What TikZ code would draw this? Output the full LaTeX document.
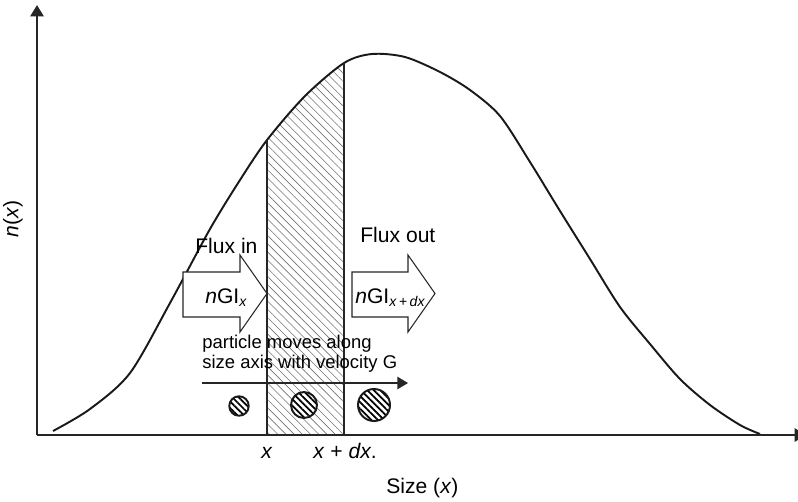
\documentclass[tikz,border=0pt]{standalone}
\usepackage{fontspec}
\setmainfont{Liberation Sans}
\usepackage{tikz}
\usetikzlibrary{arrows.meta, patterns.meta, positioning}
\tikzset{
  axis/.style={line width=1.4pt, color=black!85, -{Triangle[width=7.5pt, length=6.5pt]}},
  curve/.style={line width=1.1pt, color=black!90},
  band/.style={line width=0.9pt, color=black!85},
  hatch/.style={pattern={Lines[angle=-45, distance=3.3pt, line width=0.35pt]}, pattern color=black!55},
  flux/.style={draw=black!85, fill=white, line width=0.6pt},
  velarrow/.style={line width=0.7pt, color=black!85, -{Triangle[width=7pt, length=6pt]}},
  grain/.style={circle, draw=black!90, line width=1.1pt, inner sep=0pt,
    preaction={fill=white}, pattern={Lines[angle=-45, distance=2.6pt, line width=1pt]}},
  lbl/.style={font=\fontsize{12}{14}\selectfont, inner sep=0pt},
  small/.style={font=\fontsize{10.5}{12}\selectfont, inner sep=0pt}
}
\newcommand{\psdcurve}{plot[smooth, tension=0.5] coordinates {(53,431) (90,409) (130,373) (170,303) (210,229) (240,180) (267,140) (305,96) (344,63) (372,54) (405,57) (440,72) (470,90) (500,116) (530,162) (560,211) (590,259) (620,307) (650,344) (680,379) (710,405) (740,425) (760,434)}}
\begin{document}
\begin{tikzpicture}[x=0.2mm, y=-0.2mm]
  \useasboundingbox (0,0) rectangle (798,501);
  % hatched strip between x and x+dx
  \begin{scope}
    \clip (267,0) rectangle (344,435);
    \fill[hatch] \psdcurve -- (760,435) -- (53,435) -- cycle;
  \end{scope}
  % size distribution
  \draw[curve] \psdcurve;
  \coordinate (xa) at (267,435);
  \coordinate (xat) at (267,140);
  \coordinate (xb) at (344,435);
  \coordinate (xbt) at (344,63);
  \draw[band] (xa) -- (xat);
  \draw[band] (xb) -- (xbt);
  % axes
  \coordinate (o) at (37,435);
  \coordinate (ytip) at (37,5);
  \coordinate (xtip) at (806,435);
  \draw[axis] (o) -- (ytip);
  \draw[axis] (o) -- (xtip);
  % flux arrows
  \draw[flux] (183,272) -- (240,272) -- (240,255) -- (267,293.5) -- (240,332) -- (240,317) -- (183,317) -- cycle;
  \draw[flux] (352,272) -- (408,272) -- (408,255) -- (435,293.5) -- (408,332) -- (408,317) -- (352,317) -- cycle;
  \node[lbl, anchor=base west] (fin) at (195,253) {Flux in};
  \node[lbl, anchor=base west] (fout) at (360,242) {Flux out};
  \node[lbl, anchor=base west] (nin) at (205,303) {\textit{n}GI\textsubscript{\textit{x}}};
  \node[lbl, anchor=base west] (nout) at (355,303) {\textit{n}GI\textsubscript{\textit{x}\,+\,\textit{dx}}};
  % particles
  \node[small, anchor=base west] (mv1) at (202,348) {particle moves along};
  \node[small, anchor=base west] (mv2) at (202,368) {size axis with velocity G};
  \coordinate (vs) at (202,383);
  \coordinate (ve) at (408,383);
  \draw[velarrow] (vs) -- (ve);
  \node[grain, minimum size=3.9mm] (g1) at (239,406) {};
  \node[grain, minimum size=5.2mm] (g2) at (304,405) {};
  \node[grain, minimum size=6.4mm] (g3) at (374,405) {};
  % axis labels
  \node[lbl, anchor=base] (lx) at (267,458) {\textit{x}};
  \node[lbl, anchor=base west] (ldx) at (313,458) {\textit{x} + \textit{dx}.};
  \node[lbl, anchor=base west] (lsize) at (386,493) {Size (\textit{x})};
  \node[lbl, rotate=90] (lny) at (13,219) {\textit{n}(\textit{x})};
\end{tikzpicture}
\end{document}
